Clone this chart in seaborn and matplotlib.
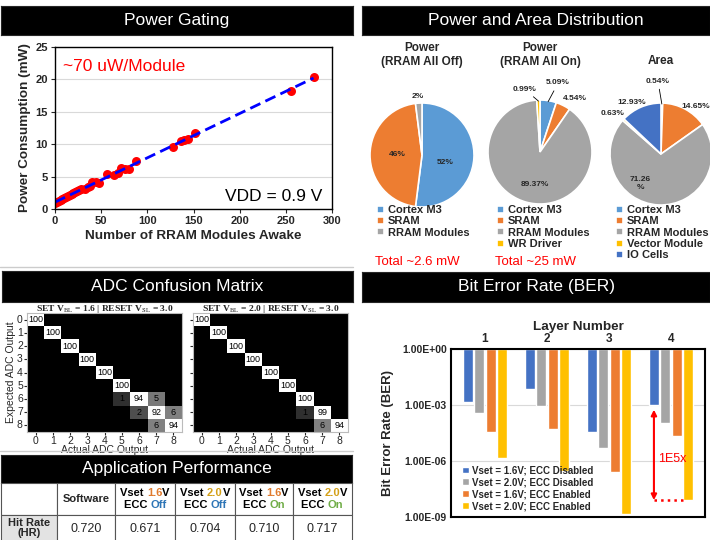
import numpy as np
import pandas as pd
import matplotlib
matplotlib.use("Agg")
import matplotlib.pyplot as plt
from matplotlib.colors import LogNorm
from matplotlib.lines import Line2D
from matplotlib.patches import Rectangle
from matplotlib.offsetbox import TextArea, HPacker, VPacker, AnnotationBbox
import seaborn as sns

sns.set_style("white")
plt.rcParams["font.family"] = ["Liberation Sans", "DejaVu Sans"]
plt.rcParams["mathtext.fontset"] = "stix"

#### data

# power gating
modules_awake = [0, 2, 4, 6, 8, 10, 12, 14, 16, 18, 20, 22, 24, 26, 28, 32, 36, 38,
                 40, 44, 48, 56, 64, 68, 72, 76, 80, 88, 128, 136, 140, 144, 152, 256, 280]
power_mw = [0.95, 1.05, 1.25, 1.4, 1.55, 1.7, 1.85, 2.0, 2.15, 2.3, 2.45, 2.6, 2.85, 3.0,
            3.05, 3.15, 3.35, 3.5, 4.15, 4.1, 4.0, 5.35, 5.3, 5.6, 6.3, 6.15, 6.2, 7.45,
            9.6, 10.55, 10.7, 10.75, 11.75, 18.25, 20.3]

# power / area distribution
off_labels = ["Cortex M3", "SRAM", "RRAM Modules"]
off_values = [52, 46, 2]
on_labels = ["Cortex M3", "SRAM", "RRAM Modules", "WR Driver"]
on_values = [5.09, 4.54, 89.37, 0.99]
area_labels = ["Cortex M3", "SRAM", "RRAM Modules", "Vector Module", "IO Cells"]
area_values = [0.54, 14.65, 71.26, 0.63, 12.93]

# ADC confusion matrices (rows = expected, cols = actual)
adc_levels = [0, 1, 2, 3, 4, 5, 6, 7, 8]
adc_set16 = [[100, 0, 0, 0, 0, 0, 0, 0, 0],
             [0, 100, 0, 0, 0, 0, 0, 0, 0],
             [0, 0, 100, 0, 0, 0, 0, 0, 0],
             [0, 0, 0, 100, 0, 0, 0, 0, 0],
             [0, 0, 0, 0, 100, 0, 0, 0, 0],
             [0, 0, 0, 0, 0, 100, 0, 0, 0],
             [0, 0, 0, 0, 0, 1, 94, 5, 0],
             [0, 0, 0, 0, 0, 0, 2, 92, 6],
             [0, 0, 0, 0, 0, 0, 0, 6, 94]]
adc_set20 = [[100, 0, 0, 0, 0, 0, 0, 0, 0],
             [0, 100, 0, 0, 0, 0, 0, 0, 0],
             [0, 0, 100, 0, 0, 0, 0, 0, 0],
             [0, 0, 0, 100, 0, 0, 0, 0, 0],
             [0, 0, 0, 0, 100, 0, 0, 0, 0],
             [0, 0, 0, 0, 0, 100, 0, 0, 0],
             [0, 0, 0, 0, 0, 0, 100, 0, 0],
             [0, 0, 0, 0, 0, 0, 1, 99, 0],
             [0, 0, 0, 0, 0, 0, 0, 6, 94]]

# application performance
perf_vset = [None, "1.6", "2.0", "1.6", "2.0"]
perf_ecc = [None, "Off", "Off", "On", "On"]
hit_rate = [0.720, 0.671, 0.704, 0.710, 0.717]

# bit error rate
layers = [1, 2, 3, 4]
ber_series = ["Vset = 1.6V; ECC Disabled", "Vset = 2.0V; ECC Disabled",
              "Vset = 1.6V; ECC Enabled", "Vset = 2.0V; ECC Enabled"]
ber_16_off = [1.45e-3, 7.6e-3, 3.8e-5, 1.0e-3]
ber_20_off = [3.9e-4, 9.3e-4, 4.9e-6, 1.1e-4]
ber_16_on = [3.5e-5, 4.9e-5, 2.7e-7, 2.2e-5]
ber_20_on = [1.4e-6, 2.8e-7, 1.5e-9, 8.0e-9]

#### colours
c_blue = "#5B9BD5"
c_orange = "#ED7D31"
c_gray = "#A5A5A5"
c_yellow = "#FFC000"
c_dblue = "#4472C4"

W, H = 710, 540
fig = plt.figure(figsize=(W / 100, H / 100), dpi=100)


def px_axes(x0, y0, x1, y1):
    return fig.add_axes([x0 / W, 1 - y1 / H, (x1 - x0) / W, (y1 - y0) / H])


def title_bar(x0, y0, x1, y1, text):
    bar = px_axes(x0, y0, x1, y1)
    bar.set_facecolor("black")
    bar.set_xticks([])
    bar.set_yticks([])
    bar.text(0.5, 0.5, text, color="white", fontsize=12.5,
             ha="center", va="center", transform=bar.transAxes)


def bold_ticks(ax):
    for lbl in ax.get_xticklabels() + ax.get_yticklabels():
        lbl.set_fontweight("bold")


#### 1) Power Gating
title_bar(1, 6, 353, 35, "Power Gating")
ax = px_axes(55, 47, 332, 209)
sns.scatterplot(x=modules_awake, y=power_mw, color="red", s=42, linewidth=0, ax=ax)
sns.regplot(x=modules_awake, y=power_mw, scatter=False, ci=None, ax=ax,
            line_kws=dict(color="blue", lw=2, ls=(0, (4, 2))))
ax.set(xlim=(0, 300), ylim=(0, 25), xticks=range(0, 301, 50), yticks=range(0, 26, 5))
ax.yaxis.grid(True, color="#d9d9d9", lw=0.8)
ax.set_axisbelow(True)
for s in ax.spines.values():
    s.set_color("black")
    s.set_linewidth(1)
ax.tick_params(labelsize=8, length=3, bottom=True, left=True, pad=2)
bold_ticks(ax)
ax.set_xlabel("Number of RRAM Modules Awake", fontsize=9.7, fontweight="bold", labelpad=3)
ax.set_ylabel("Power Consumption (mW)", fontsize=9.7, fontweight="bold", labelpad=3)
ax.text(0.03, 0.88, "~70 uW/Module", color="red", fontsize=12.5,
        va="center", transform=ax.transAxes)
ax.text(0.967, 0.08, "VDD = 0.9 V", color="black", fontsize=12.5,
        ha="right", va="center", transform=ax.transAxes)

fig.add_artist(Line2D([0, 353 / W], [1 - 267 / H] * 2, color="#cccccc", lw=1))


#### 2) Power and Area Distribution
title_bar(362, 6, 710, 35, "Power and Area Distribution")


def draw_pie(cx, cy, r, values, labels, colors, label_pos, leaders, fmt,
             title, title_y, legend_x, total=None):
    pax = px_axes(cx - r, cy - r, cx + r, cy + r)
    wedges, _ = pax.pie(values, colors=colors, startangle=90, counterclock=False,
                        wedgeprops=dict(edgecolor="white", linewidth=1.2))
    pax.set_xlim(-1, 1)
    pax.set_ylim(-1, 1)
    for i, w in enumerate(wedges):
        pos = label_pos[i]
        if i in leaders:
            ang = np.deg2rad((w.theta1 + w.theta2) / 2)
            pax.annotate(fmt(values[i]), xy=(0.98 * np.cos(ang), 0.98 * np.sin(ang)),
                         xytext=pos, ha="center", va="center", fontsize=6,
                         fontweight="bold", annotation_clip=False,
                         arrowprops=dict(arrowstyle="-", color="black", lw=0.6,
                                         shrinkA=1, shrinkB=0))
        else:
            pax.text(pos[0], pos[1], fmt(values[i]), ha="center", va="center",
                     fontsize=6, fontweight="bold", clip_on=False)
    fig.text(cx / W, 1 - title_y / H, title, ha="center", va="center",
             fontsize=8.5, fontweight="bold", linespacing=1.15)
    pax.legend(wedges, labels, loc="upper left",
               bbox_to_anchor=(legend_x / W, 1 - 205 / H), bbox_transform=fig.transFigure,
               frameon=False, prop=dict(weight="bold", size=8), handlelength=0.6,
               handleheight=0.6, handletextpad=0.35, labelspacing=0.12,
               borderpad=0, borderaxespad=0)
    if total:
        fig.text((legend_x - 2) / W, 1 - 262 / H, total, color="red",
                 fontsize=9.5, va="center")


draw_pie(422, 155, 52, off_values, off_labels, [c_blue, c_orange, c_gray],
         [(0.44, -0.15), (-0.48, 0.0), (-0.08, 1.12)], [], lambda v: f"{v:g}%",
         "Power\n(RRAM All Off)", 55, 377, "Total ~2.6 mW")
draw_pie(540, 152, 52, on_values, on_labels, [c_blue, c_orange, c_gray, c_yellow],
         [(0.35, 1.33), (0.67, 1.02), (-0.1, -0.63), (-0.3, 1.21)], [0, 3],
         lambda v: f"{v:.2f}%",
         "Power\n(RRAM All On)", 55, 497, "Total ~25 mW")
draw_pie(661, 154, 51, area_values, area_labels,
         [c_blue, c_orange, c_gray, c_yellow, c_dblue],
         [(-0.06, 1.43), (0.68, 0.94), (-0.41, -0.57), (-0.94, 0.8), (-0.57, 1.0)], [0],
         lambda v: f"{v:.2f}\n%" if v > 50 else f"{v:.2f}%",
         "Area", 61, 616)


#### 3) ADC Confusion Matrix
title_bar(2, 271, 353, 302, "ADC Confusion Matrix")


def draw_cm(box, mat, title, ylabels):
    cax = px_axes(*box)
    data = pd.DataFrame(mat, index=adc_levels, columns=adc_levels).astype(float)
    annot = data.map(lambda v: f"{v:.0f}" if v > 0 else "")
    sns.heatmap(data.where(data > 0), norm=LogNorm(vmin=0.35, vmax=100), cmap="gray",
                cbar=False, annot=annot, fmt="", ax=cax,
                xticklabels=adc_levels, yticklabels=adc_levels if ylabels else False,
                annot_kws=dict(color="black", fontsize=6.5))
    cax.set_facecolor("black")
    for s in cax.spines.values():
        s.set_visible(True)
        s.set_color("#bbbbbb")
        s.set_linewidth(0.8)
    if not ylabels:
        cax.set_yticks(np.arange(len(adc_levels)) + 0.5)
        cax.set_yticklabels([])
    cax.tick_params(labelsize=7.5, length=2, bottom=True, left=True, pad=1)
    cax.tick_params(axis="y", labelrotation=0)
    cax.tick_params(axis="x", labelrotation=0)
    cax.set_xlabel("Actual ADC Output", fontsize=7.5, labelpad=-1)
    if ylabels:
        cax.set_ylabel("Expected ADC Output", fontsize=7.5, labelpad=1)
    cax.set_title(title, fontsize=6.8, fontweight="bold", family="Liberation Serif", pad=1.5)


draw_cm((27, 313, 182, 432), adc_set16,
        r"SET V$_{\mathrm{BL}}$ = 1.6 | RESET V$_{\mathrm{SL}}$ = 3.0", True)
draw_cm((193, 313, 348, 432), adc_set20,
        r"SET V$_{\mathrm{BL}}$ = 2.0 | RESET V$_{\mathrm{SL}}$ = 3.0", False)

fig.add_artist(Line2D([0, 353 / W], [1 - 451 / H] * 2, color="#cccccc", lw=1))


#### 4) Application Performance table
title_bar(1, 455, 352, 483, "Application Performance")
tab = px_axes(0, 483, 355, 540)
tab.set_xlim(0, 355)
tab.set_ylim(57, 0)
tab.axis("off")
col_edges = [1, 57, 115, 175, 235, 293, 352]
row_edges = [0, 32, 64]
vset_colors = {"1.6": "#E07B2E", "2.0": "#D4A017"}
ecc_colors = {"Off": "#2E75B6", "On": "#70AD47"}

for r in range(2):
    for c in range(6):
        face = "#e3e3e3" if (r == 1 and c == 0) else "white"
        tab.add_patch(Rectangle((col_edges[c], row_edges[r]),
                                col_edges[c + 1] - col_edges[c], row_edges[r + 1] - row_edges[r],
                                facecolor=face, edgecolor="#555555", lw=0.8))

hdr_y = (row_edges[0] + row_edges[1]) / 2
val_y = (row_edges[1] + 57) / 2 + 1
for i in range(5):
    cx = (col_edges[i + 1] + col_edges[i + 2]) / 2
    if perf_vset[i] is None:
        tab.text(cx, hdr_y, "Software", ha="center", va="center", fontsize=8, fontweight="bold")
    else:
        tp = dict(fontsize=8, fontweight="bold", color="black")
        line1 = HPacker(children=[TextArea("Vset ", textprops=tp),
                                  TextArea(perf_vset[i], textprops={**tp, "color": vset_colors[perf_vset[i]]}),
                                  TextArea("V", textprops=tp)], pad=0, sep=0)
        line2 = HPacker(children=[TextArea("ECC ", textprops=tp),
                                  TextArea(perf_ecc[i], textprops={**tp, "color": ecc_colors[perf_ecc[i]]})],
                        pad=0, sep=0)
        box = VPacker(children=[line1, line2], align="center", pad=0, sep=1)
        tab.add_artist(AnnotationBbox(box, (cx, hdr_y), xycoords="data", frameon=False,
                                      box_alignment=(0.5, 0.5), pad=0))
    tab.text(cx, val_y, f"{hit_rate[i]:.3f}", ha="center", va="center", fontsize=9)
tab.text((col_edges[0] + col_edges[1]) / 2, val_y, "Hit Rate\n(HR)", ha="center",
         va="center", fontsize=8, fontweight="bold", linespacing=1.0)


#### 5) Bit Error Rate
title_bar(362, 272, 710, 302, "Bit Error Rate (BER)")
ber_df = pd.DataFrame({
    "Layer": layers * 4,
    "Series": np.repeat(ber_series, len(layers)),
    "BER": ber_16_off + ber_20_off + ber_16_on + ber_20_on,
})
ber_df["Depth"] = -np.log10(ber_df["BER"])

bax = px_axes(451, 349, 705, 517)
sns.barplot(data=ber_df, x="Layer", y="Depth", hue="Series",
            palette=[c_dblue, c_gray, c_orange, c_yellow], saturation=1,
            width=0.74, gap=0.12, ax=bax)
bax.set_ylim(9, 0)
yt = [0, 3, 6, 9]
bax.set_yticks(yt)
bax.set_yticklabels([f"{10.0 ** -t:.2E}" for t in yt])
bax.yaxis.grid(True, color="#d9d9d9", lw=0.8)
bax.set_axisbelow(True)
bax.xaxis.tick_top()
bax.xaxis.set_label_position("top")
bax.tick_params(axis="x", length=0, labelsize=8.5, pad=3)
bax.tick_params(axis="y", length=0, labelsize=7.5, pad=3)
bold_ticks(bax)
bax.set_xlabel("Layer Number", fontsize=9.7, fontweight="bold", labelpad=2)
bax.set_ylabel("Bit Error Rate (BER)", fontsize=9.5, fontweight="bold", labelpad=6)
for s in bax.spines.values():
    s.set_color("black")
    s.set_linewidth(1.5)

handles, labels = bax.get_legend_handles_labels()
bax.legend(handles, labels, loc="lower left", bbox_to_anchor=(0.02, 0.0),
           frameon=False, prop=dict(weight="bold", size=7), handlelength=0.7,
           handleheight=0.7, handletextpad=0.3, labelspacing=0.2, borderaxespad=0.2)

# 1E5x annotation between layer 4 bars
b4 = bax.containers[0][3]
y4 = bax.containers[3][3]
ax_x = b4.get_x() + b4.get_width() / 2
top_d = b4.get_height() + 0.25
bot_d = y4.get_height()
bax.annotate("", xy=(ax_x, top_d), xytext=(ax_x, bot_d),
             arrowprops=dict(arrowstyle="<|-|>", color="red", lw=1.5, mutation_scale=8,
                             shrinkA=0, shrinkB=0))
bax.plot([ax_x, y4.get_x()], [bot_d, bot_d], ls=":", color="red", lw=1.8)
bax.text(ax_x + 0.06, top_d + 0.55 * (bot_d - top_d), "1E5x", color="red",
         fontsize=9, va="center")

fig.savefig("out.png", dpi=100)
